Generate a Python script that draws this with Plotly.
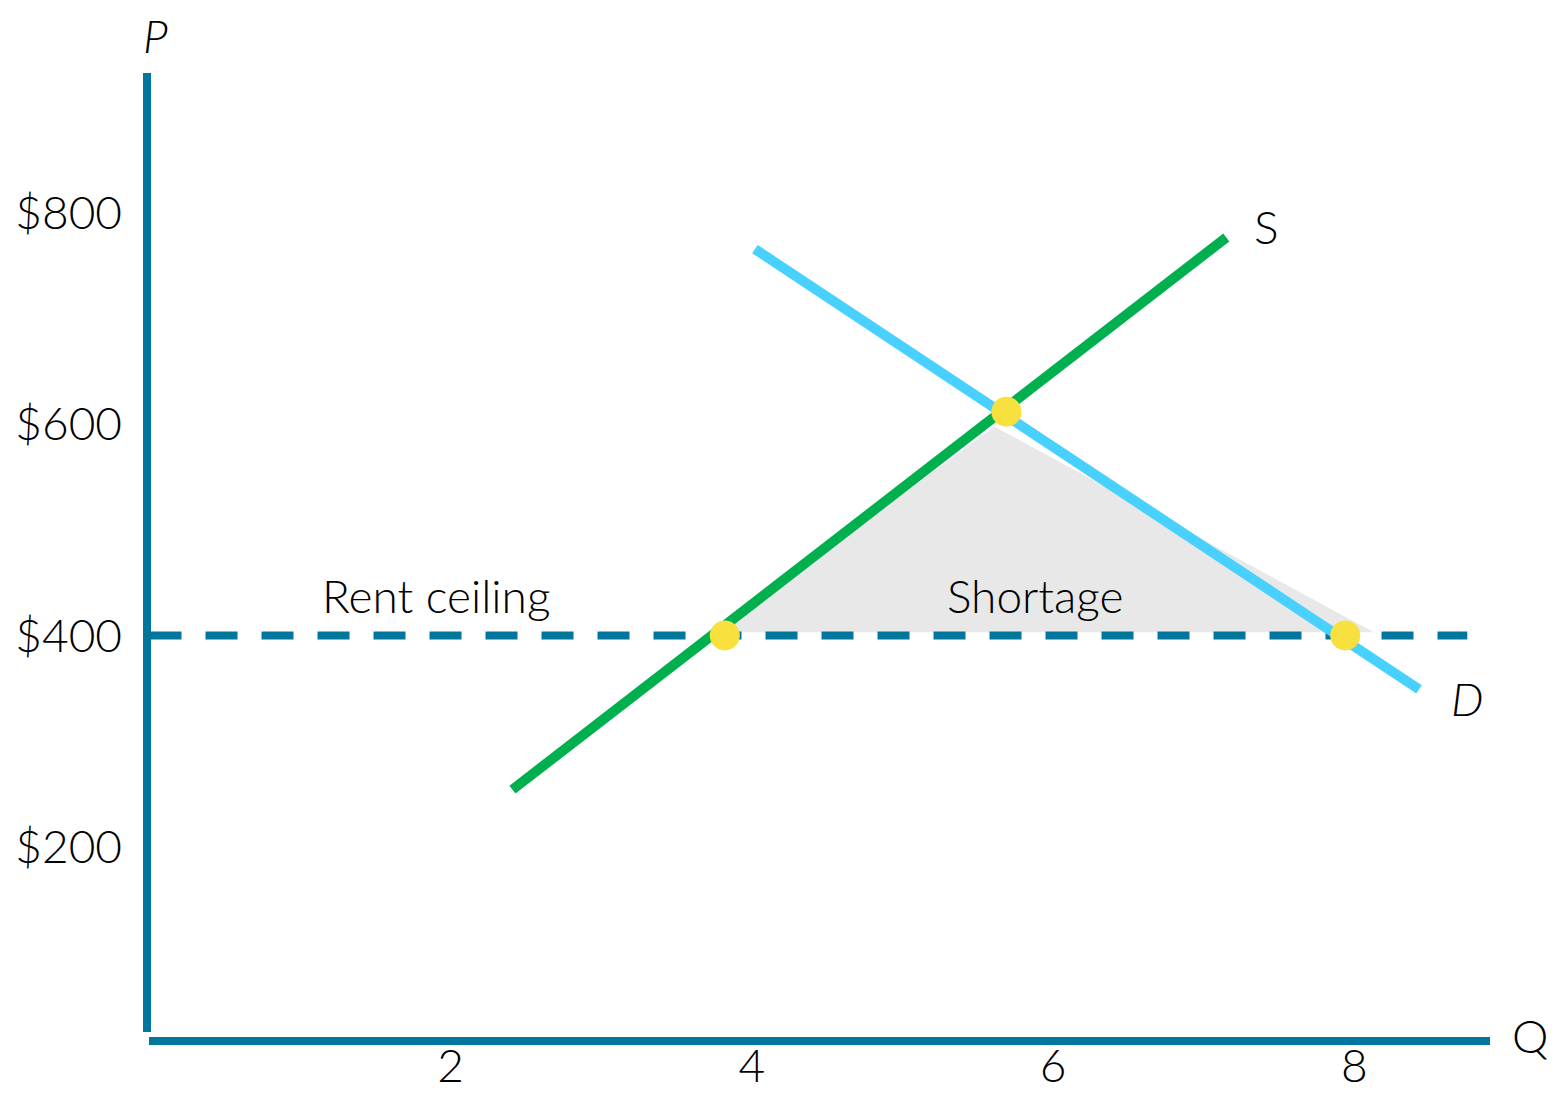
import plotly.graph_objects as go

# ---- data ----
supply_q = [2.41, 7.15]
supply_p = [254, 777]
demand_q = [4.02, 8.43]
demand_p = [766, 349]
ceiling_q = [0, 8.75]
ceiling_p = [400, 400]
points_q = [3.82, 5.69, 7.94]
points_p = [400, 612, 400]
shortage_q = [3.76, 5.61, 8.13]
shortage_p = [403, 598, 403]
x_tick_vals = [2, 4, 6, 8]
x_tick_text = ["2", "4", "6", "8"]
y_tick_vals = [200, 400, 600, 800]
y_tick_text = ["$200", "$400", "$600", "$800"]

AXIS = "#00769D"
GREEN = "#00B04F"
BLUE = "#48D0FF"
YELLOW = "#F8E03E"
GRAY = "#E8E8E8"
FONT = "Lato"

fig = go.Figure()

fig.add_trace(go.Scatter(x=shortage_q, y=shortage_p, fill="toself", fillcolor=GRAY,
                         mode="none", hoverinfo="skip", showlegend=False))
fig.add_trace(go.Scatter(x=ceiling_q, y=ceiling_p, mode="lines",
                         line=dict(color=AXIS, width=8, dash="32px,24px"),
                         showlegend=False))
fig.add_trace(go.Scatter(x=demand_q, y=demand_p, mode="lines",
                         line=dict(color=BLUE, width=10), showlegend=False))
fig.add_trace(go.Scatter(x=supply_q, y=supply_p, mode="lines",
                         line=dict(color=GREEN, width=10), showlegend=False))
fig.add_trace(go.Scatter(x=points_q, y=points_p, mode="markers",
                         marker=dict(color=YELLOW, size=30, line=dict(width=0)),
                         showlegend=False))

PH = 968.0
PW = 1343.0
# axis lines
fig.add_shape(type="line", xref="paper", yref="paper", x0=0, x1=0, y0=9 / PH, y1=1,
              line=dict(color=AXIS, width=8))
fig.add_shape(type="line", xref="paper", yref="paper", x0=2 / PW, x1=1, y0=0, y1=0,
              line=dict(color=AXIS, width=8))

txt = dict(family=FONT, size=46, color="black", weight=300)
ann = [
    dict(x=1.90, y=438, text="Rent ceiling"),
    dict(x=5.88, y=438, text="Shortage"),
    dict(x=7.42, y=787, text="S"),
    dict(x=8.75, y=340, text="<i>D</i>"),
]
for a in ann:
    fig.add_annotation(x=a["x"], y=a["y"], text=a["text"], showarrow=False,
                       xanchor="center", yanchor="middle", font=txt)
# axis titles placed outside the plot area (paper coordinates)
fig.add_annotation(xref="paper", yref="paper", x=8 / PW, y=1 + 38 / PH, text="<i>P</i>",
                   showarrow=False, xanchor="center", yanchor="middle", font=txt)
fig.add_annotation(xref="paper", yref="paper", x=1 + 40 / PW, y=6 / PH, text="Q",
                   showarrow=False, xanchor="center", yanchor="middle", font=txt)

fig.update_layout(
    width=1566, height=1095,
    margin=dict(l=147, r=76, t=73, b=54),
    paper_bgcolor="white", plot_bgcolor="white",
    font=dict(family=FONT, size=46, color="black", weight=300),
    showlegend=False,
)
fig.update_xaxes(range=[-0.0166, 8.901], automargin=False, showgrid=False,
                 zeroline=False, showline=False,
                 tickvals=x_tick_vals, ticktext=x_tick_text, ticks="",
                 ticklabelstandoff=-6, tickfont=txt)
fig.update_yaxes(range=[15.9, 932.8], automargin=False, showgrid=False,
                 zeroline=False, showline=False,
                 tickvals=y_tick_vals, ticktext=y_tick_text, ticks="",
                 ticklabelstandoff=24, tickfont=txt)

fig.write_html("out.html")
